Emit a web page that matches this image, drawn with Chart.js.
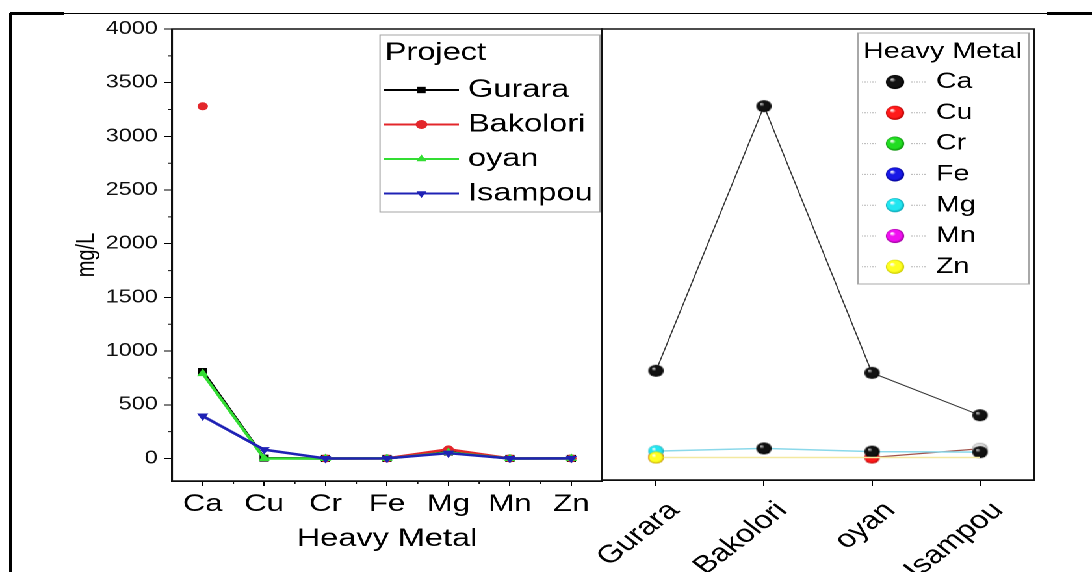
<!DOCTYPE html>
<html><head><meta charset="utf-8">
<script src="https://cdn.jsdelivr.net/npm/chart.js@4.4.1/dist/chart.umd.min.js"></script>
<style>
html,body{margin:0;padding:0;background:#fff;width:1092px;height:572px;overflow:hidden;}
#stage{position:absolute;left:0;top:0;width:840px;height:572px;transform:scaleX(1.3);transform-origin:0 0;}
#stage canvas{position:absolute;left:0;top:0;}
.ln{position:absolute;background:#000;}
</style></head><body>
<div class="ln" style="left:10px;top:13px;width:1082px;height:1px;"></div>
<div class="ln" style="left:10px;top:12px;width:54px;height:3px;"></div>
<div class="ln" style="left:1047px;top:12px;width:45px;height:3px;"></div>
<div class="ln" style="left:9px;top:13px;width:3px;height:559px;"></div>
<div id="stage"><canvas id="left" width="840" height="572"></canvas><canvas id="right" width="840" height="572"></canvas></div>
<script>
// ---------- data ----------
const metals = ['Ca', 'Cu', 'Cr', 'Fe', 'Mg', 'Mn', 'Zn'];
const projects = ['Gurara', 'Bakolori', 'oyan', 'Isampou'];
const gurara   = [810, 3, 0.1, 0.3, 60, 0.1, 0.2];
const bakolori = [3280, null, 0.1, 0.4, 85, 0.2, 0.3];
const oyan     = [790, 0, 0.1, 0.2, 55, 0.1, 0.2];
const isampou  = [395, 82, 0.1, 0.3, 50, 0.1, 0.2];
const yTicks = [0, 500, 1000, 1500, 2000, 2500, 3000, 3500, 4000];
const yMin = -210, yMax = 4000;
const yTitle = 'mg/L';
const xTitle = 'Heavy Metal';
const leftLegendTitle = 'Project';
const rightLegendTitle = 'Heavy Metal';

const FONT = "'Liberation Sans', Arial, sans-serif";

// ---------- ball images ----------
function ball(color, dark, r, hl) {
  const c = document.createElement('canvas');
  const s = Math.ceil(2 * r + 2);
  c.width = s; c.height = s;
  const g = c.getContext('2d');
  const cx = s / 2, cy = s / 2;
  const grad = g.createRadialGradient(cx - r * 0.35, cy - r * 0.4, r * 0.05, cx, cy, r);
  grad.addColorStop(0, hl || '#ffffff');
  grad.addColorStop(0.3, color);
  grad.addColorStop(0.75, color);
  grad.addColorStop(1, dark);
  g.fillStyle = grad;
  g.beginPath(); g.arc(cx, cy, r, 0, Math.PI * 2); g.fill();
  return c;
}
const ballColors = {
  Ca: ['#111111', '#000000', '#d0d0d0'],
  Cu: ['#ff1a1a', '#b00000'],
  Cr: ['#22dd22', '#0a8a0a'],
  Fe: ['#1818e6', '#000090'],
  Mg: ['#22e6f0', '#0aa0b0'],
  Mn: ['#f010f0', '#9a009a'],
  Zn: ['#ffff22', '#c8c800'],
  gray: ['#d8d8d8', '#8a8a8a']
};
const pt = {}, lg = {};
for (const k in ballColors) {
  const [c, d, h] = ballColors[k];
  pt[k] = ball(c, d, 6, h);
  lg[k] = ball(c, d, 16, h);
}

// ---------- plugins ----------
const boxFrame = {
  id: 'boxFrame',
  afterDraw(chart, args, o) {
    const {ctx, chartArea: a} = chart;
    ctx.save();
    ctx.strokeStyle = '#111'; ctx.lineWidth = 1.5;
    ctx.strokeRect(a.left, a.top, a.right - a.left, a.bottom - a.top);
    if (o.minor) {
      const y = chart.scales.y, x = chart.scales.x;
      ctx.lineWidth = 1;
      ctx.beginPath();
      for (let i = 0; i < yTicks.length - 1; i++) {
        const p = y.getPixelForValue((yTicks[i] + yTicks[i + 1]) / 2);
        ctx.moveTo(a.left - 3, p); ctx.lineTo(a.left, p);
      }
      for (let i = 0; i < x.ticks.length - 1; i++) {
        const p = (x.getPixelForValue(i) + x.getPixelForValue(i + 1)) / 2;
        ctx.moveTo(p, a.bottom); ctx.lineTo(p, a.bottom + 3);
      }
      ctx.stroke();
    }
    ctx.restore();
  }
};

const projLegend = {
  id: 'projLegend',
  afterDraw(chart, args, o) {
    const ctx = chart.ctx;
    ctx.save();
    ctx.strokeStyle = '#a5a5a5'; ctx.lineWidth = 1;
    ctx.strokeRect(o.x, o.y, o.w, o.h);
    ctx.textBaseline = 'middle'; ctx.textAlign = 'left';
    ctx.fillStyle = '#000'; ctx.font = o.titleFont;
    ctx.fillText(o.title, o.titleX, o.titleY);
    chart.data.datasets.forEach((ds, i) => {
      const cy = o.rowY + i * o.rowH;
      ctx.strokeStyle = ds.borderColor; ctx.lineWidth = 2;
      ctx.beginPath(); ctx.moveTo(o.lineX0, cy); ctx.lineTo(o.lineX1, cy); ctx.stroke();
      ctx.fillStyle = ds.borderColor;
      Chart.helpers.drawPoint(ctx, {pointStyle: ds.pointStyle, radius: o.markR, rotation: ds.pointRotation || 0, borderWidth: 0}, (o.lineX0 + o.lineX1) / 2, cy);
      ctx.fillStyle = '#000'; ctx.font = o.font;
      ctx.fillText(ds.label, o.textX, cy);
    });
    ctx.restore();
  }
};

const metalLegend = {
  id: 'metalLegend',
  afterDraw(chart, args, o) {
    const ctx = chart.ctx;
    ctx.save();
    ctx.strokeStyle = '#a8a8a8'; ctx.lineWidth = 1;
    ctx.strokeRect(o.x, o.y, o.w, o.h);
    ctx.textBaseline = 'middle'; ctx.textAlign = 'left';
    ctx.fillStyle = '#000'; ctx.font = o.titleFont;
    ctx.fillText(o.title, o.titleX, o.titleY);
    chart.data.datasets.forEach((ds, i) => {
      const cy = o.rowY + i * o.rowH;
      ctx.strokeStyle = '#b5b5b5'; ctx.lineWidth = 1; ctx.setLineDash([1, 1]);
      ctx.beginPath();
      ctx.moveTo(o.d0, cy); ctx.lineTo(o.d1, cy);
      ctx.moveTo(o.d2, cy); ctx.lineTo(o.d3, cy);
      ctx.stroke(); ctx.setLineDash([]);
      ctx.drawImage(lg[ds.label], o.ballX - o.ballR, cy - o.ballR, 2 * o.ballR, 2 * o.ballR);
      ctx.fillStyle = '#000'; ctx.font = o.font;
      ctx.fillText(ds.label, o.textX, cy);
    });
    ctx.restore();
  }
};

// ---------- left chart ----------
const projStyles = [
  {color: '#000000', style: 'rect', r: 5, rot: 0},
  {color: '#e3262b', style: 'circle', r: 4, rot: 0},
  {color: '#33dd33', style: 'triangle', r: 5, rot: 0},
  {color: '#1f22b5', style: 'triangle', r: 5, rot: 180}
];
const projData = [gurara, bakolori, oyan, isampou];

new Chart(document.getElementById('left'), {
  type: 'line',
  data: {
    labels: metals,
    datasets: projects.map((p, i) => ({
      label: p,
      data: projData[i],
      borderColor: projStyles[i].color,
      backgroundColor: projStyles[i].color,
      pointBackgroundColor: projStyles[i].color,
      pointBorderColor: projStyles[i].color,
      pointStyle: projStyles[i].style,
      pointRotation: projStyles[i].rot,
      pointRadius: projStyles[i].r,
      pointBorderWidth: 0,
      borderWidth: 2.5,
      spanGaps: false,
      tension: 0,
      order: -i
    }))
  },
  options: {
    responsive: false, animation: false, devicePixelRatio: 2,
    layout: {padding: {left: 0, top: 29, right: 376.9, bottom: 0}},
    plugins: {
      legend: {display: false}, tooltip: {enabled: false},
      boxFrame: {minor: true},
      projLegend: {
        x: 292.3, y: 35, w: 169.2, h: 177,
        title: leftLegendTitle, titleFont: `25px ${FONT}`, titleX: 296, titleY: 53,
        rowY: 90, rowH: 34.5, lineX0: 295.4, lineX1: 353, markR: 4.5,
        textX: 360, font: `25px ${FONT}`
      }
    },
    scales: {
      x: {
        type: 'category', offset: true,
        grid: {display: true, drawOnChartArea: false, tickLength: 5, color: '#000'},
        border: {display: true, color: '#000', width: 1.5},
        ticks: {font: {family: FONT, size: 24}, color: '#000', padding: 4, maxRotation: 0, autoSkip: false},
        title: {display: true, text: xTitle, font: {family: FONT, size: 25}, color: '#000', padding: {top: 0, bottom: 18}},
        afterFit: s => { s.height = 91; }
      },
      y: {
        type: 'linear', min: yMin, max: yMax,
        afterBuildTicks: s => { s.ticks = yTicks.map(v => ({value: v})); },
        grid: {display: true, drawOnChartArea: false, tickLength: 6, color: '#000'},
        border: {display: true, color: '#000', width: 1.5},
        ticks: {font: {family: FONT, size: 18}, color: '#111', padding: 5, callback: v => String(v)},
        title: {display: true, text: yTitle, font: {family: FONT, size: 20}, color: '#000', padding: {top: 55, bottom: 0}},
        afterFit: s => { s.width = 132.3; }
      }
    }
  },
  plugins: [boxFrame, projLegend]
});

// ---------- right chart ----------
const metalLine = {
  Ca: {line: '#3a3a3a', w: 1, styles: ['Ca', 'Ca', 'Ca', 'Ca'], r: [6, 6, 6, 6]},
  Cu: {line: '#a0524a', w: 1.2, styles: ['Cu', 'Cu', 'Cu', 'gray'], r: [6, 6, 6, 6]},
  Cr: {line: '#9ae89a', w: 1, styles: ['Cr', 'Cr', 'Cr', 'Cr'], r: [0, 0, 0, 0]},
  Fe: {line: '#9a9af0', w: 1, styles: ['Fe', 'Fe', 'Fe', 'Fe'], r: [0, 0, 0, 0]},
  Mg: {line: '#8ad8ea', w: 1.5, styles: ['Mg', 'Ca', 'Ca', 'Ca'], r: [6, 6, 6, 6]},
  Mn: {line: '#f0a0f0', w: 1, styles: ['Mn', 'Mn', 'Mn', 'Mn'], r: [0, 0, 0, 0]},
  Zn: {line: '#f3e9a0', w: 1.5, styles: ['Zn', 'Zn', 'Zn', 'Zn'], r: [6, 0, 0, 0]}
};

new Chart(document.getElementById('right'), {
  type: 'line',
  data: {
    labels: projects,
    datasets: metals.map((m, j) => ({
      label: m,
      data: projData.map(p => p[j]),
      borderColor: metalLine[m].line,
      borderWidth: metalLine[m].w,
      pointStyle: metalLine[m].styles.map(k => pt[k]),
      pointRadius: metalLine[m].r,
      spanGaps: false,
      tension: 0,
      order: -j
    }))
  },
  options: {
    responsive: false, animation: false, devicePixelRatio: 2,
    layout: {padding: {left: 463.1, top: 29, right: 44.6, bottom: 0}},
    plugins: {
      legend: {display: false}, tooltip: {enabled: false},
      boxFrame: {minor: false},
      metalLegend: {
        x: 660, y: 33, w: 131.5, h: 251,
        title: rightLegendTitle, titleFont: `22px ${FONT}`, titleX: 664, titleY: 52,
        rowY: 82, rowH: 30.8, d0: 663, d1: 674.6, d2: 701, d3: 712.3,
        ballX: 688.5, ballR: 7.5, textX: 720, font: `22px ${FONT}`
      }
    },
    scales: {
      x: {
        type: 'category', offset: true,
        grid: {display: true, drawOnChartArea: false, tickLength: 6, color: '#000'},
        border: {display: true, color: '#000', width: 1.5},
        ticks: {font: {family: FONT, size: 25}, color: '#000', padding: 10, maxRotation: 45, minRotation: 45, autoSkip: false, labelOffset: 14},
        afterFit: s => { s.height = 92; }
      },
      y: {type: 'linear', min: yMin, max: yMax, display: false}
    }
  },
  plugins: [boxFrame, metalLegend]
});
</script>
</body></html>
